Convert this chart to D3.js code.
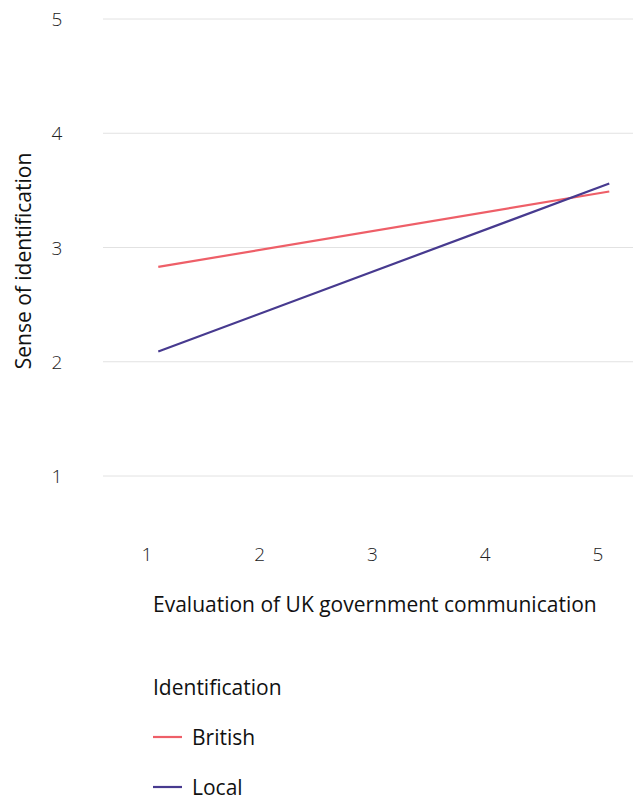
<!DOCTYPE html>
<html><head><meta charset="utf-8">
<script src="https://cdn.jsdelivr.net/npm/d3@7"></script>
<style>body{margin:0;background:#fff;} text{font-family:"Open Sans", Lato, sans-serif;}</style>
</head><body>
<svg id="c" width="633" height="796"></svg>
<script>
const seriesNames = ["British", "Local"];
const colors = ["#ee5f68", "#473a8f"];
const xValues = [1.1, 5.1];
const britishValues = [2.83, 3.49];
const localValues = [2.09, 3.56];
const xTicks = [1, 2, 3, 4, 5];
const yTicks = [1, 2, 3, 4, 5];

const svg = d3.select("#c");
const x = d3.scaleLinear().domain([1, 5]).range([147, 598]);
const y = d3.scaleLinear().domain([1, 5]).range([476, 19]);
const gridX0 = 103, gridX1 = 633;

svg.append("g").selectAll("line").data(yTicks).join("line")
  .attr("x1", gridX0).attr("x2", gridX1)
  .attr("y1", d => y(d)).attr("y2", d => y(d))
  .attr("stroke", "#e2e2e2").attr("stroke-width", 1);

svg.append("g").selectAll("text").data(yTicks).join("text")
  .attr("x", 57).attr("y", d => y(d) + 7)
  .attr("text-anchor", "middle").attr("font-size", 19).attr("font-weight", 300).attr("fill", "#222")
  .text(d => d);

svg.append("g").selectAll("text").data(xTicks).join("text")
  .attr("x", d => x(d)).attr("y", 561)
  .attr("text-anchor", "middle").attr("font-size", 19).attr("font-weight", 300).attr("fill", "#222")
  .text(d => d);

svg.append("text").attr("transform", "translate(31,261) rotate(-90)")
  .attr("text-anchor", "middle").attr("font-size", 21).attr("fill", "#111")
  .text("Sense of identification");
svg.append("text").attr("x", 153).attr("y", 612)
  .attr("font-size", 21).attr("fill", "#111")
  .text("Evaluation of UK government communication");

const data = [britishValues, localValues];
const line = d3.line().x((d, i) => x(xValues[i])).y(d => y(d));
svg.append("g").selectAll("path").data(data).join("path")
  .attr("d", d => line(d)).attr("fill", "none")
  .attr("stroke", (d, i) => colors[i]).attr("stroke-width", 2.2);

svg.append("text").attr("x", 153).attr("y", 695)
  .attr("font-size", 21).attr("fill", "#111").text("Identification");
const lg = svg.append("g").selectAll("g").data(seriesNames).join("g")
  .attr("transform", (d, i) => `translate(153,${737 + i * 50})`);
lg.append("line").attr("x1", 0).attr("x2", 29).attr("y1", 0).attr("y2", 0)
  .attr("stroke", (d, i) => colors[i]).attr("stroke-width", 2.2);
lg.append("text").attr("x", 39).attr("y", 8)
  .attr("font-size", 21).attr("fill", "#111").text(d => d);
</script>
</body></html>
